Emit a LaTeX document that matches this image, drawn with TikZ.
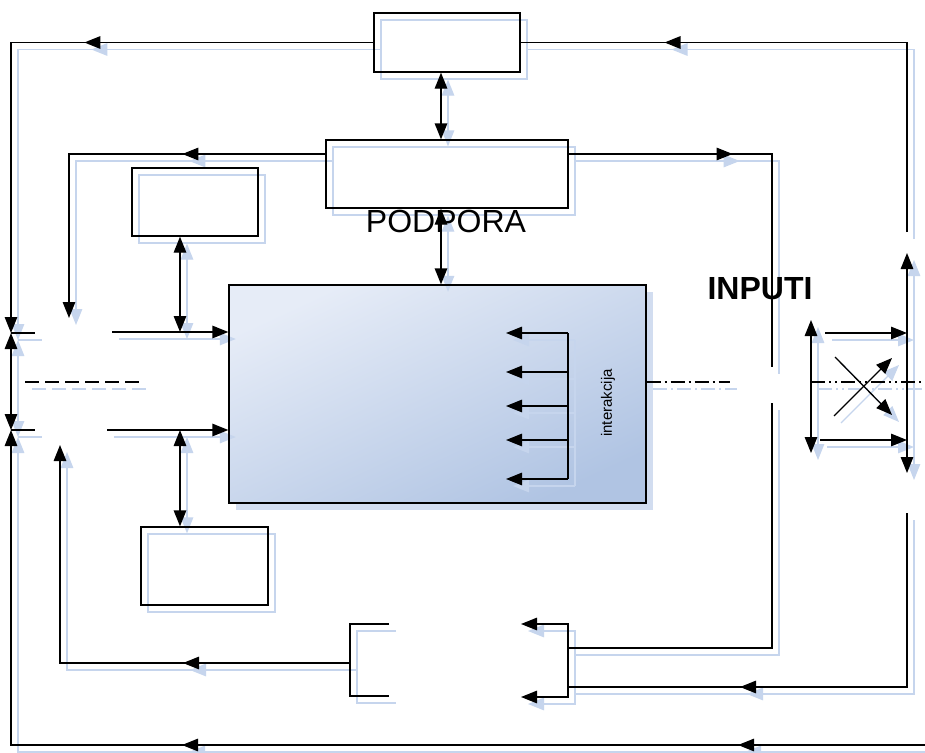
\documentclass[tikz,border=0pt]{standalone}
\usepackage{fontspec}
\setmainfont{Liberation Sans}
\usetikzlibrary{arrows.meta,decorations.markings}
\definecolor{ink}{RGB}{0,0,0}
\definecolor{shadowblue}{RGB}{198,213,237}
\definecolor{shadowfill}{RGB}{210,221,240}
\definecolor{btop}{RGB}{230,236,247}
\definecolor{bbot}{RGB}{176,196,227}
\tikzset{
  >={Triangle[length=16pt 0 0,width=12.5pt 0 0]},
  ln/.style={draw=ink, line width=1.3pt},
  box/.style={ln, rectangle, inner sep=0pt},
  bigbox/.style={ln, rectangle, inner sep=0pt},
  midarrow/.style={postaction={decorate}, decoration={markings, mark=at position #1 with {\arrow{>}}}},
  dashline/.style={dash pattern=on 14pt off 6pt},
  dashdot/.style={dash pattern=on 14pt off 4pt on 2pt off 4pt},
  dashdotdot/.style={dash pattern=on 14pt off 4pt on 2pt off 4pt on 2pt off 4pt},
}
\newcommand\mynetwork{%
  % boxes
  \node[box, minimum width=146pt, minimum height=59pt] (T) at (447,42.5) {};
  \node[box, minimum width=242pt, minimum height=68pt] (P) at (447,174) {};
  \node[box, minimum width=126pt, minimum height=68pt] (L1) at (195,202) {};
  \node[box, minimum width=127pt, minimum height=78pt] (L2) at (204.5,566) {};
  \node[bigbox, minimum width=417pt, minimum height=218pt] (B) at (437.5,394) {};
  % free ends
  \coordinate (lu) at (11,333);
  \coordinate (ld) at (11,430);
  \coordinate (s1) at (35,333);
  \coordinate (s2) at (35,430);
  \coordinate (ru) at (907,232);
  \coordinate (pdl) at (69,318);
  \coordinate (rg1) at (772,367);
  \coordinate (rg2) at (772,403);
  \coordinate (h1) at (180,332);
  \coordinate (h2) at (180,430);
  \coordinate (a1) at (112,332);
  \coordinate (a2) at (107,430);
  \coordinate (bR) at (925,745);
  \coordinate (dl1) at (25,382);
  \coordinate (dl2) at (139,382);
  \coordinate (bl1) at (389,624);
  \coordinate (bl2) at (389,696);
  \coordinate (blt) at (350,624);
  \coordinate (blb) at (350,696);
  \coordinate (blm) at (350,663);
  \coordinate (up1) at (60,445);
  \coordinate (br1) at (521,624);
  \coordinate (br2) at (521,697);
  \coordinate (brt) at (568,624);
  \coordinate (brb) at (568,697);
  \coordinate (brm1) at (568,648);
  \coordinate (brm2) at (568,687);
  \coordinate (rv2) at (907,513);
  \coordinate (q1) at (907,253);
  \coordinate (q2) at (907,473);
  \coordinate (r1) at (811,320);
  \coordinate (r2) at (811,453);
  \coordinate (ra1) at (825,333);
  \coordinate (rb1) at (907,333);
  \coordinate (ra2) at (820,440);
  \coordinate (rb2) at (907,440);
  \coordinate (x1) at (835,357);
  \coordinate (x2) at (892,415);
  \coordinate (x3) at (834,416);
  \coordinate (x4) at (892,358);
  \coordinate (dd1) at (811,382);
  \coordinate (dd2) at (925,382);
  \coordinate (bd) at (730,382);
  \coordinate (iv1) at (568,333);
  \coordinate (iv2) at (568,479);
  % connectors
  \draw[ln, ->, midarrow=289pt] (T.west) -| (lu);
  \draw[ln, midarrow=432pt] (ru) |- (T.east);
  \draw[ln, <->] ([xshift=-6pt]T.south) -- ([xshift=-6pt]P.north);
  \draw[ln, ->, midarrow=143pt] ([yshift=20pt]P.west) -| (pdl);
  \draw[ln, midarrow=164pt] ([yshift=20pt]P.east) -| (rg1);
  \draw[ln] (rg2) |- (brm1);
  \draw[ln, <->] ([xshift=-6pt]P.south) -- ([xshift=3.5pt]B.north);
  \draw[ln, <->] ([xshift=-15pt]L1.south) -- (h1);
  \draw[ln, ->] (a1) -- ([yshift=62pt]B.west);
  \draw[ln, ->] (a2) -- ([yshift=-36pt]B.west);
  \draw[ln, <->] (h2) -- ([xshift=-24.5pt]L2.north);
  \draw[ln, <->] (lu) -- (ld);
  \draw[ln] (lu) -- (s1);
  \draw[ln] (ld) -- (s2);
  \draw[ln, ->, postaction={decorate}, decoration={markings,
      mark=at position 187pt with {\arrow{>}},
      mark=at position 743pt with {\arrow{>}}}] (bR) -| (ld);
  \draw[ln, dashline] (dl1) -- (dl2);
  \draw[ln] (bl1) -- (blt) -- (blb) -- (bl2);
  \draw[ln, ->, midarrow=167pt] (blm) -| (up1);
  \draw[ln, <->] (br1) -- (brt) -- (brb) -- (br2);
  \draw[ln, midarrow=341pt] (rv2) |- (brm2);
  \draw[ln, <->] (q1) -- (q2);
  \draw[ln, <->] (r1) -- (r2);
  \draw[ln, ->] (ra1) -- (rb1);
  \draw[ln, ->] (ra2) -- (rb2);
  \draw[ln, ->] (x1) -- (x2);
  \draw[ln, ->] (x3) -- (x4);
  \draw[ln, dashdotdot] (dd1) -- (dd2);
  \draw[ln, dashdot] ([yshift=12pt]B.east) -- (bd);
  \draw[ln] (iv1) -- (iv2);
  \foreach \yy/\nm in {333/i1,372/i2,406/i3,440/i4,479/i5}{
    \coordinate (\nm a) at (568,\yy);
    \coordinate (\nm b) at (506,\yy);
    \draw[ln, ->] (\nm a) -- (\nm b);
  }%
}
\begin{document}
\begin{tikzpicture}[x=1pt, y=-1pt]
  \useasboundingbox (0,0) rectangle (925,752);
  \fill[white] (0,0) rectangle (925,752);
  % big box shadow and gradient fill
  \fill[shadowfill] (236,292) rectangle (653,510);
  \shade[top color=btop, bottom color=bbot, shading angle=25] (229,285) rectangle (646,503);
  % shadow copy
  \begin{scope}[shift={(7,7)}]
    \colorlet{ink}{shadowblue}
    \tikzset{bigbox/.style={rectangle, inner sep=0pt}}
    \mynetwork
  \end{scope}
  % main drawing
  \mynetwork
  % texts
  \node[font=\fontsize{32}{36}\selectfont, inner sep=0pt] (podpora) at (446,221) {PODPORA};
  \node[font=\bfseries\fontsize{32}{36}\selectfont, inner sep=0pt] (inputi) at (760,289) {INPUTI};
  \node[font=\fontsize{15}{17}\selectfont, rotate=90, inner sep=0pt] (inter) at (608,403) {interakcija};
\end{tikzpicture}
\end{document}
